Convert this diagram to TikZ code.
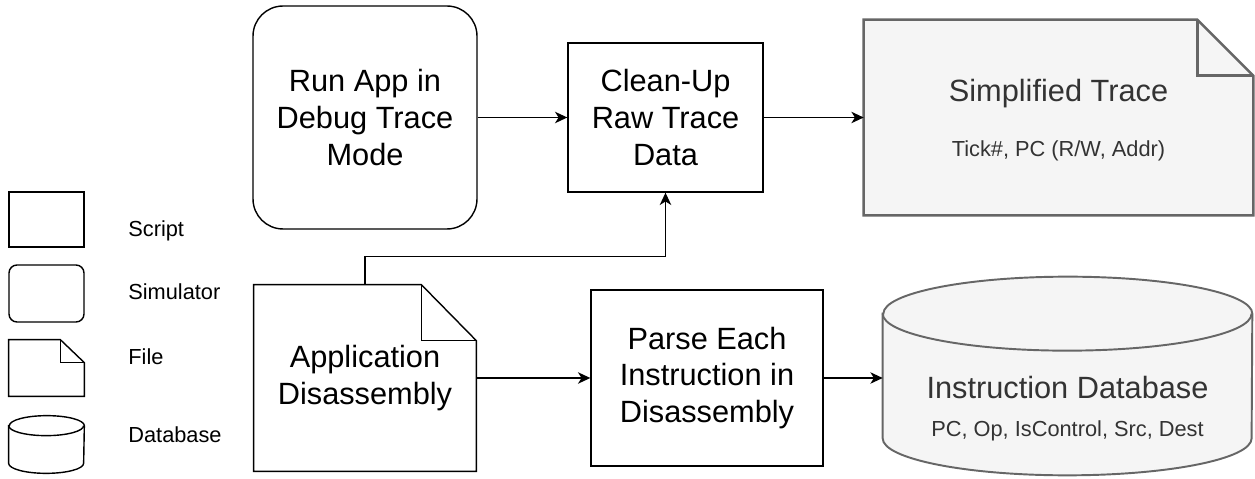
\documentclass[tikz,border=0pt]{standalone}
\usepackage{fontspec}
\setmainfont{Liberation Sans}
\usepackage{tikz}
\usetikzlibrary{arrows.meta,calc,positioning}

\definecolor{shadefill}{HTML}{F5F5F5}
\definecolor{shadeline}{HTML}{666666}
\definecolor{shadetext}{HTML}{333333}

% dog-eared page outline round a node: [style]{node}{fold width}{fold height}
\newcommand{\dogear}[4][]{%
  \draw[#1] (#2.north west) -- ([xshift=-#3]#2.north east) -- ([yshift=-#4]#2.north east)
    -- (#2.south east) -- (#2.south west) -- cycle;
  \draw[#1,fill=none] ([xshift=-#3]#2.north east) |- ([yshift=-#4]#2.north east);}
% cylinder outline round a node: [style]{node}{x radius}{y radius}
\newcommand{\drum}[4][]{%
  \draw[#1] ([yshift=-#4]#2.north west) -- ([yshift=#4]#2.south west)
    arc[start angle=180,end angle=360,x radius=#3,y radius=#4]
    -- ([yshift=-#4]#2.north east)
    arc[start angle=0,end angle=180,x radius=#3,y radius=#4] -- cycle;
  \draw[#1,fill=none] ([yshift=-#4]#2.north west)
    arc[start angle=180,end angle=360,x radius=#3,y radius=#4];}

\begin{document}
\begin{tikzpicture}[x=0.02cm,y=-0.02cm,
    bigtext/.style={font=\fontsize{17.5}{21}\selectfont,align=center},
    smalltext/.style={font=\fontsize{12.4}{15}\selectfont},
    scriptbox/.style={draw,line width=0.8pt,inner sep=0pt,bigtext},
    simbox/.style={scriptbox,rounded corners=0.6cm},
    blank/.style={inner sep=0pt,bigtext},
    plainline/.style={line width=0.8pt},
    greyline/.style={draw=shadeline,fill=shadefill},
    flow/.style={line width=0.8pt,-{Stealth[length=7pt,width=6.5pt,inset=2pt]}}]
  \fill[white] (0,0) rectangle (1255,479);
  \useasboundingbox (0,0) rectangle (1255,479);

  % legend
  \node[draw,line width=0.8pt,minimum width=1.5cm,minimum height=1.1cm] (keyscript) at (46.5,219.5) {};
  \node[draw,line width=0.8pt,rounded corners=0.16cm,minimum width=1.5cm,minimum height=1.14cm] (keysim) at (46.5,293.5) {};
  \node[minimum width=1.5cm,minimum height=1.12cm] (keyfile) at (46.5,368) {};
  \node[minimum width=1.5cm,minimum height=1.14cm] (keydb) at (46.5,444.5) {};
  \dogear[plainline]{keyfile}{0.48cm}{0.46cm}
  \drum[plainline]{keydb}{0.75cm}{0.2cm}
  \foreach \lbl/\yy in {Script/237,Simulator/300,File/365,Database/443}
    \node[smalltext,anchor=base west,inner sep=0pt] (key\lbl) at (128,\yy) {\lbl};

  % flow
  \node[simbox,minimum width=4.48cm,minimum height=4.46cm] (run) at (365,117.5) {Run App in\\Debug Trace\\Mode};
  \node[scriptbox,minimum width=3.9cm,minimum height=2.98cm] (clean) at (665.5,117.5) {Clean-Up\\Raw Trace\\Data};
  \node[blank,minimum width=7.78cm,minimum height=3.9cm] (trace) at (1058.5,117.5) {};
  \node[blank,minimum width=4.44cm,minimum height=3.72cm] (app) at (365,378) {Application\\Disassembly};
  \node[scriptbox,minimum width=4.64cm,minimum height=3.52cm] (parse) at (707,378) {Parse Each\\Instruction in\\Disassembly};
  \node[blank,minimum width=7.38cm,minimum height=3.96cm] (db) at (1067.5,376) {};

  \dogear[greyline,line width=1.4pt]{trace}{1.12cm}{1.12cm}
  \dogear[plainline]{app}{1.1cm}{1.12cm}
  \drum[greyline,line width=1.1pt]{db}{3.69cm}{0.74cm}

  \node[bigtext,text=shadetext,anchor=base] (tracename) at ($(trace.center)+(0,-15.5)$) {Simplified Trace};
  \node[smalltext,text=shadetext,anchor=base] (tracefields) at ($(trace.center)+(0,39.5)$) {Tick\#, PC (R/W, Addr)};
  \node[bigtext,text=shadetext,anchor=base] (dbname) at ($(db.center)+(0,23)$) {Instruction Database};
  \node[smalltext,text=shadetext,anchor=base] (dbfields) at ($(db.center)+(0,61)$) {PC, Op, IsControl, Src, Dest};

  \draw[flow] (run) -- (clean);
  \draw[flow] (clean) -- (trace);
  \draw[flow] (app.north) -- ++(0,-28) -| (clean.south);
  \draw[flow] (app) -- (parse);
  \draw[flow] (parse.east) -- (parse.east -| db.west);
\end{tikzpicture}
\end{document}
